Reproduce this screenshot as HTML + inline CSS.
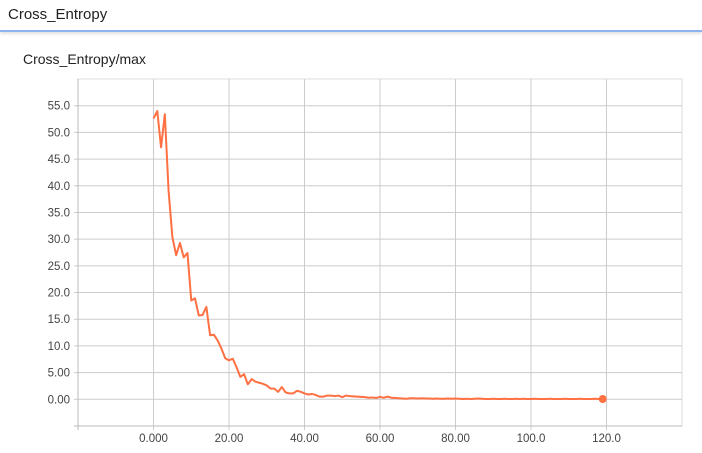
<!DOCTYPE html>
<html><head><meta charset="utf-8"><style>
body{margin:0;width:702px;height:453px;background:#fff;font-family:"Liberation Sans",sans-serif;overflow:hidden;position:relative}
#hdr{position:absolute;left:0;top:0;width:702px;height:30px;border-bottom:2px solid #8fb3ef;box-shadow:0 2px 3px rgba(0,0,0,0.12)}
#hdr span{position:absolute;left:8px;top:6px;font-size:15px;color:#222}
#ttl{position:absolute;left:23px;top:51px;font-size:14px;color:#222}
svg{position:absolute;left:0;top:0}
text{font-family:"Liberation Sans",sans-serif;font-size:11.5px;fill:#444}
</style></head><body>
<div id="hdr"><span>Cross_Entropy</span></div>
<div id="ttl">Cross_Entropy/max</div>
<svg id="c" width="702" height="453"></svg>
<script>
const xTicks=[0,20,40,60,80,100,120];
const xTickLabels=["0.000","20.00","40.00","60.00","80.00","100.0","120.0"];
const yTicks=[0,5,10,15,20,25,30,35,40,45,50,55];
const yTickLabels=["0.00","5.00","10.0","15.0","20.0","25.0","30.0","35.0","40.0","45.0","50.0","55.0"];
const steps=[];for(let i=0;i<120;i++)steps.push(i);
const values=[52.6,54,47.2,53.4,39,30.4,27,29.3,26.6,27.4,18.5,18.9,15.7,15.8,17.3,12,12.1,11,9.5,7.7,7.3,7.6,6,4.2,4.7,2.8,3.8,3.3,3.1,2.9,2.6,2.0,2.0,1.4,2.3,1.3,1.1,1.1,1.6,1.4,1.1,0.9,1.0,0.8,0.5,0.5,0.7,0.7,0.6,0.7,0.4,0.7,0.6,0.55,0.5,0.45,0.4,0.3,0.35,0.25,0.45,0.3,0.5,0.3,0.25,0.2,0.15,0.1,0.2,0.2,0.15,0.2,0.15,0.15,0.1,0.15,0.1,0.1,0.15,0.1,0.15,0.1,0.05,0.1,0.05,0.1,0.15,0.1,0.05,0.05,0.1,0.05,0.05,0.1,0.05,0.05,0.1,0.05,0.1,0.05,0.05,0.1,0.05,0.05,0.05,0.1,0.05,0.05,0.05,0.1,0.05,0.05,0.05,0.1,0.05,0.05,0.05,0.1,0.05,0.05];
const L=78,R=682,T=79,B=426,x0=-20,x1=140,y0=-5,y1=60;
const X=v=>L+(v-x0)/(x1-x0)*(R-L), Y=v=>B-(v-y0)/(y1-y0)*(B-T);
const svg=document.getElementById('c'),NS="http://www.w3.org/2000/svg";
function mk(t,a){const e=document.createElementNS(NS,t);for(const k in a)e.setAttribute(k,a[k]);svg.appendChild(e);return e;}
let e=mk('rect',{x:L,y:T,width:R-L,height:B-T,fill:'none',stroke:'#ddd'});


xTicks.forEach((t,i)=>{
 let g=mk('line',{x1:X(t),x2:X(t),y1:T,y2:B+4,stroke:'#ccc'});
 
 
 let l=mk('text',{x:X(t),y:442,'text-anchor':'middle'});l.textContent=xTickLabels[i];
 
 
});
yTicks.forEach((t,i)=>{
 let g=mk('line',{x1:L-4,x2:R,y1:Y(t),y2:Y(t),stroke:'#ccc'});
 
 
 let l=mk('text',{x:70,y:Y(t)+4,'text-anchor':'end'});l.textContent=yTickLabels[i];
 
 
});
mk('line',{x1:L,x2:L,y1:T,y2:B+4,stroke:'#bbb'});
mk('line',{x1:L-4,x2:R,y1:B,y2:B,stroke:'#bbb'});
let p=mk('polyline',{points:steps.map((s,i)=>X(s)+','+Y(values[i])).join(' '),fill:'none',stroke:'#ff7043','stroke-width':2,'stroke-linejoin':'round'});


const n=steps.length-1;
let d=mk('circle',{cx:X(steps[n]),cy:Y(values[n]),r:4,fill:'#ff7043'});


</script>
</body></html>
